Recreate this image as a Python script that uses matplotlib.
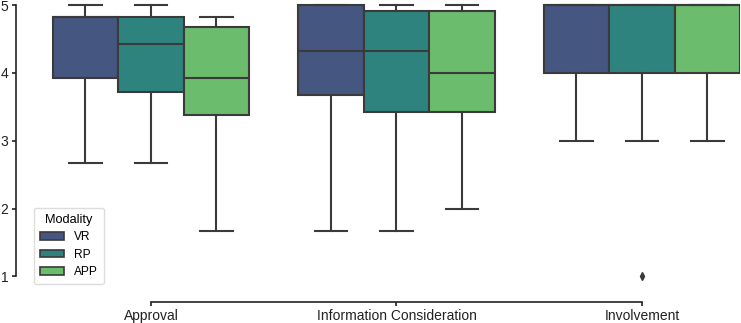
import matplotlib
matplotlib.use("Agg")
import matplotlib.pyplot as plt
from matplotlib.patches import Patch
import seaborn as sns

plt.rcParams['font.family'] = ['Liberation Sans', 'DejaVu Sans']

categories = ["Approval", "Information Consideration", "Involvement"]
modalities = ["VR", "RP", "APP"]

# per category, per modality: (whislo, q1, med, q3, whishi)
stats_vr = [(2.67, 3.92, 4.83, 4.83, 5.0), (1.67, 3.67, 4.33, 5.0, 5.0), (3.0, 4.0, 5.0, 5.0, 5.0)]
stats_rp = [(2.67, 3.72, 4.42, 4.83, 5.0), (1.67, 3.42, 4.33, 4.92, 5.0), (3.0, 4.0, 5.0, 5.0, 5.0)]
stats_app = [(1.67, 3.38, 3.92, 4.67, 4.83), (2.0, 3.42, 4.0, 4.92, 5.0), (3.0, 4.0, 5.0, 5.0, 5.0)]
outliers_rp = [[], [], [1.0]]
outliers_vr = [[], [], []]
outliers_app = [[], [], []]

series = [stats_vr, stats_rp, stats_app]
outliers = [outliers_vr, outliers_rp, outliers_app]

pal = sns.color_palette("viridis", 3, desat=0.75)
edge = "#3a3a3a"

W, H = 741, 323
fig = plt.figure(figsize=(W / 100, H / 100), dpi=100)
px_unit = 245.5
left_px = 28.2
right_px = 740
x0 = -0.5
x1 = x0 + (right_px - left_px) / px_unit
ylo, yhi = 0.8, 5.05
y1_px = 276.3
ppu = 67.8
bottom_px = y1_px + (1 - ylo) * ppu
top_px = y1_px - (yhi - 1) * ppu
ax = fig.add_axes([left_px / W, (H - bottom_px) / H, (right_px - left_px) / W, (bottom_px - top_px) / H])

bw = 0.8 / 3
for j, (sts, outs) in enumerate(zip(series, outliers)):
    bxstats = []
    for i, (lo, q1, med, q3, hi) in enumerate(sts):
        bxstats.append(dict(whislo=lo, q1=q1, med=med, q3=q3, whishi=hi, fliers=outs[i]))
    pos = [i + (j - 1) * bw for i in range(len(categories))]
    ax.bxp(bxstats, positions=pos, widths=bw, patch_artist=True,
           boxprops=dict(facecolor=pal[j], edgecolor=edge, linewidth=1.5),
           medianprops=dict(color=edge, linewidth=1.5),
           whiskerprops=dict(color=edge, linewidth=1.5),
           capprops=dict(color=edge, linewidth=1.5),
           flierprops=dict(marker='d', markerfacecolor=edge, markeredgecolor=edge, markersize=4))

ax.set_xlim(x0, x1)
ax.set_ylim(ylo, yhi)
ax.set_xticks(range(len(categories)))
ax.set_xticklabels(categories, fontsize=8.5)
ax.set_yticks([1, 2, 3, 4, 5])
ax.set_yticklabels(["1", "2", "3", "4", "5"], fontsize=8.5)
for s in ["top", "right"]:
    ax.spines[s].set_visible(False)
ax.spines["left"].set_position(("outward", 11.8 * 0.72))
ax.spines["bottom"].set_position(("outward", 12.5 * 0.72))
ax.spines["left"].set_bounds(1, 5)
ax.spines["bottom"].set_bounds(0, 2)
for s in ["left", "bottom"]:
    ax.spines[s].set_linewidth(1.2)
    ax.spines[s].set_color("#222222")
ax.tick_params(axis="both", length=3.2, width=1.2, color="#222222", labelcolor="#222222")
ax.tick_params(axis="x", pad=1.8)
ax.tick_params(axis="y", pad=2.5)
ax.patch.set_alpha(0)

handles = [Patch(facecolor=pal[k], edgecolor=edge, linewidth=1.2, label=m) for k, m in enumerate(modalities)]
fig.legend(handles=handles, title="Modality", loc="lower left",
           bbox_to_anchor=(34 / W, (H - 284) / H), borderaxespad=0,
           fontsize=8.6, title_fontsize=9.2, frameon=True, fancybox=True,
           edgecolor="#dddddd", framealpha=1, handlelength=2.0, handleheight=0.6,
           labelspacing=0.45, borderpad=0.5, handletextpad=0.85)

fig.savefig("out.png", dpi=100)
